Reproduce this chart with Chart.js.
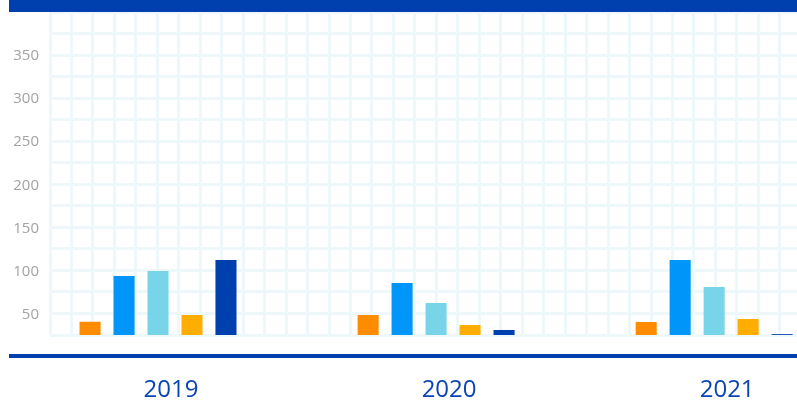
<!DOCTYPE html>
<html lang="pt-br">

<head>
    <meta charset="UTF-8">
    <meta name="viewport" content="width=device-width, initial-scale=1.0">
    <title>Gráfico por ano</title>
    <script src="https://cdn.jsdelivr.net/npm/chart.js"></script>
    <style>
        html,
        body {
            margin: 0;
            padding: 0;
            background: #ffffff;
        }

        .grafico {
            position: relative;
            width: 797px;
            height: 402px;
        }
    </style>
</head>

<body>
    <div class="grafico">
        <canvas id="chart_anos"></canvas>
    </div>
</body>

<script>
    // dados
    var anos = ['2019', '2020', '2021'];
    var serieLaranja = [40.4, 48.2, 40.1];
    var serieAzul = [93.5, 85.4, 112];
    var serieCiano = [99.3, 62.2, 80.7];
    var serieAmarela = [48.2, 36.6, 43.6];
    var serieAzulEscuro = [112, 30.8, 26];
    var ticksY = [50, 100, 150, 200, 250, 300, 350];

    var corGrade = '#eef8fb';
    var corAzul = '#003fae';

    function montarSerie(valores) {
        return valores.map(function (v, i) {
            return { x: i, y: v };
        });
    }

    var data_anos = {
        datasets: [
            { label: 'Série 1', data: montarSerie(serieLaranja), backgroundColor: '#ff8c00' },
            { label: 'Série 2', data: montarSerie(serieAzul), backgroundColor: '#0095f8' },
            { label: 'Série 3', data: montarSerie(serieCiano), backgroundColor: '#78d5e9' },
            { label: 'Série 4', data: montarSerie(serieAmarela), backgroundColor: '#ffad00' },
            { label: 'Série 5', data: montarSerie(serieAzulEscuro), backgroundColor: corAzul }
        ]
    };

    // faixa azul de cima e linha azul de baixo
    var faixas = {
        id: 'faixas',
        afterDraw: function (chart) {
            var ctx = chart.ctx;
            ctx.save();
            ctx.fillStyle = corAzul;
            ctx.fillRect(9, 0, chart.width - 9, 12);
            ctx.fillRect(9, chart.chartArea.bottom + 19, chart.width - 9, 4);
            ctx.restore();
        }
    };

    var config_anos = {
        type: 'bar',
        data: data_anos,
        plugins: [faixas],
        options: {
            responsive: true,
            maintainAspectRatio: false,
            animation: false,
            categoryPercentage: 0.611,
            barPercentage: 0.62,
            layout: {
                padding: { top: 12, right: 0, bottom: 0, left: 0 }
            },
            plugins: {
                legend: { display: false },
                tooltip: { enabled: false }
            },
            scales: {
                x: {
                    type: 'linear',
                    position: 'bottom',
                    offset: false,
                    bounds: 'data',
                    min: -0.3885,
                    max: 2.298,
                    afterBuildTicks: function (eixo) {
                        eixo.ticks = anos.map(function (a, i) {
                            return { value: i };
                        });
                    },
                    afterFit: function (eixo) {
                        eixo.height = 67;
                        eixo.paddingLeft = 0;
                        eixo.paddingRight = 0;
                    },
                    grid: { display: false, drawTicks: false, offset: false },
                    border: { display: false },
                    ticks: {
                        maxRotation: 0,
                        autoSkip: false,
                        padding: 41,
                        labelOffset: 13,
                        color: '#0a45b3',
                        font: { family: 'Open Sans', size: 24 },
                        callback: function (valor) {
                            return anos[valor];
                        }
                    }
                },
                x2: {
                    type: 'linear',
                    position: 'top',
                    offset: false,
                    bounds: 'data',
                    min: 0,
                    max: 34.8,
                    afterFit: function (eixo) {
                        eixo.height = 0;
                    },
                    grid: { color: corGrade, lineWidth: 3, drawTicks: false, offset: false },
                    border: { display: false },
                    ticks: { display: false, stepSize: 1, maxTicksLimit: 100, includeBounds: false }
                },
                y: {
                    min: 25,
                    max: 400,
                    afterFit: function (eixo) {
                        eixo.width = 50;
                        eixo.paddingTop = 0;
                        eixo.paddingBottom = 0;
                    },
                    grid: { color: corGrade, lineWidth: 3, drawTicks: false },
                    border: { display: false },
                    ticks: {
                        stepSize: 25,
                        maxTicksLimit: 100,
                        padding: 11,
                        labelOffset: 1,
                        color: '#a3a3a3',
                        font: { family: 'Open Sans', size: 15 },
                        callback: function (valor) {
                            return ticksY.indexOf(valor) >= 0 ? valor : '';
                        }
                    }
                }
            }
        }
    };

    var chart_anos = new Chart(
        document.getElementById('chart_anos'),
        config_anos
    );
</script>

</html>
